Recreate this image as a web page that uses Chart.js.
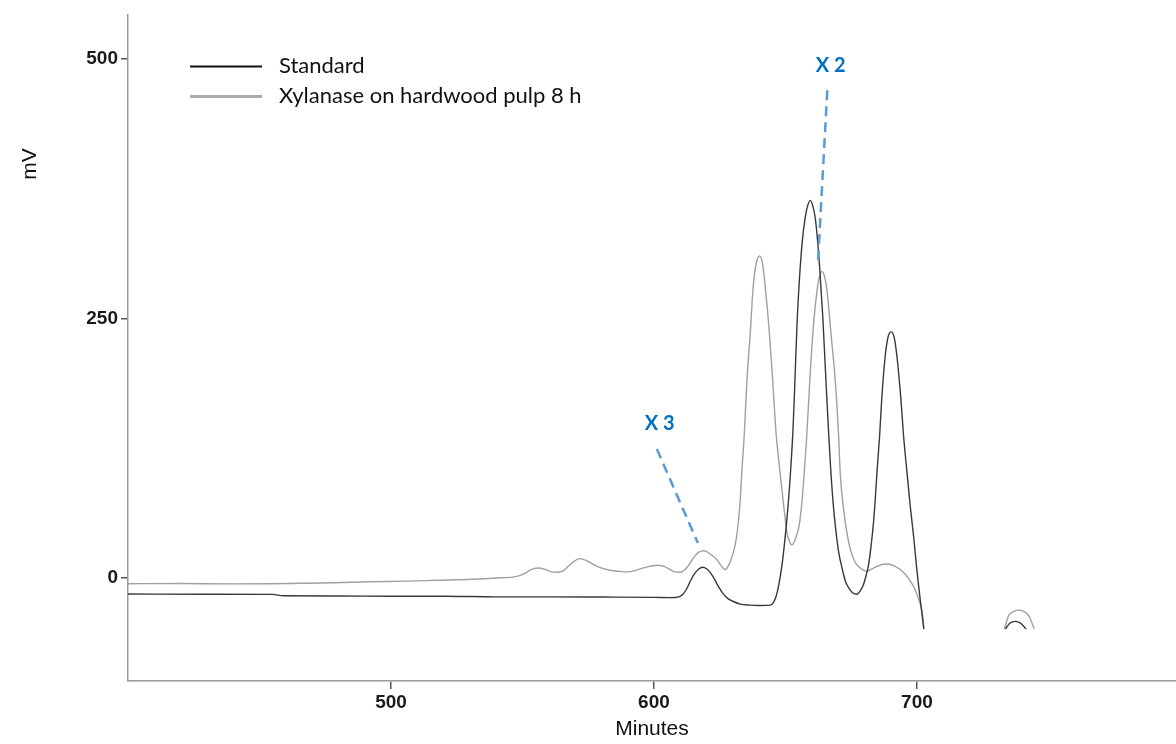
<!DOCTYPE html>
<html>
<head>
<meta charset="utf-8">
<script src="https://cdn.jsdelivr.net/npm/chart.js@4.4.1/dist/chart.umd.min.js"></script>
<style>
  html, body { margin: 0; padding: 0; background: #fff; }
  #wrap { width: 1176px; height: 744px; position: relative; }
</style>
</head>
<body>
<div id="wrap"><canvas id="chart"></canvas></div>
<script>
// Chromatogram values (minutes -> mV); null = trace off scale
const stdMinutes = [400, 430, 455, 459, 480, 500, 520, 540, 560, 580, 600, 606, 609.5, 611, 612.5, 614, 615.5, 617, 618.5, 620,
  621.5, 623, 624.5, 626, 628, 630.2, 632.8, 636.6, 640, 644.2, 645.5, 646.5, 647.5, 648.8, 649.9, 651, 652, 652.9, 653.6, 654.4, 655.6,
  656.5, 657.5, 658.4, 659.4, 660.4, 661.3, 662.2, 663, 664.2, 665.3, 666.3, 667.2, 668.2, 669.2, 670.3, 671.5, 672.8, 674, 675.5, 677.1,
  678.5, 679.7, 680.7, 681.6, 682.6, 683.5, 684.2, 684.8, 685.8, 686.6, 687.9, 689, 690.2, 691.4, 692.4, 693.9, 694.9, 696.2, 697.5, 698.8,
  699.8, 700.7, 701.7, 702.6, 718, 733.6, 735.3, 737.4, 739.5, 741.5];
const stdMv = [-15.3, -15.5, -15.6, -17, -17.2, -17.5, -17.5, -18, -18, -18.2, -18.5, -18.8, -18, -15.5, -10, -2, 4.5, 8.8, 10.5, 9,
  5, -1, -8, -14, -19.5, -22.5, -25, -26, -26.3, -26, -23, -17, -6, 15, 40, 70, 105, 145, 190, 245, 299,
  327, 347, 358, 363.5, 358, 347, 325, 299, 251, 195, 145, 105, 70, 45, 24, 9.8, -3, -9.2, -14, -15.5,
  -12, -6, 3, 13, 32, 54.3, 78, 102, 137, 172, 213, 232, 237, 231, 213, 172, 137, 102, 68, 38.4,
  12, -9.2, -30, -49, null, -49, -43.5, -41.6, -43.5, -49];

const xylMinutes = [400, 420, 440, 453, 465, 478, 492, 506, 518, 529, 541.5, 547.5, 551, 553, 556, 559, 561, 563.6, 566, 568.5,
  571.9, 575, 578.3, 583.3, 587, 590.3, 593, 596, 601.1, 604, 606.1, 608, 610, 612.5, 615, 617, 619.1, 621.5, 623.9, 625.5,
  627.1, 628.5, 630.3, 631.3, 632.1, 632.8, 633.4, 634.3, 635.3, 636.6, 637.8, 639, 640.1, 641.2, 642.2, 643.9, 645.2, 646.5, 647.3, 648,
  649.3, 650.5, 651.4, 652.4, 653.4, 654.3, 655.3, 656.2, 657.1, 658.1, 659.2, 660.4, 662, 662.9, 663.9, 664.9, 665.8, 667.3, 669, 670.2,
  670.8, 671.7, 672.7, 674, 675.3, 676.8, 678.4, 681, 683, 684.8, 687, 689.2, 691.5, 693.6, 695.8, 697.5, 698.9, 700, 701, 701.9,
  702.6, 718, 733.2, 734.9, 736.8, 738.7, 740.6, 742.5, 744.6];
const xylMv = [-5.4, -5.2, -5.5, -5.4, -5, -4.5, -3.5, -2.9, -2, -1.3, 0.3, 1.5, 4.5, 8, 9.8, 8, 6, 5.7, 8, 14,
  18.8, 16, 11.4, 7.6, 6.5, 6, 7.5, 9.8, 12.4, 11, 8.3, 6, 5.7, 10, 19.4, 25, 26.4, 23, 17.8, 12,
  8.3, 13, 25.7, 38, 54.3, 75, 102, 137, 187.8, 235.5, 283, 304, 310, 304, 283, 235.5, 187.8, 137, 117, 100,
  70.3, 44.8, 36, 32.1, 35, 41.7, 52, 72, 100, 137, 187.8, 235.5, 276.7, 290, 295, 290, 276.7, 235.5, 187.8, 137,
  102, 75, 54.3, 35, 22.6, 14, 9.8, 6.7, 9, 11.4, 13.3, 13.6, 11.5, 8.3, 3, -2.9, -9, -15.5, -23, -31.5,
  -47.4, null, -49, -36, -32, -30.8, -32, -36, -49];

const seriesLabels = ['Standard', 'Xylanase on hardwood pulp 8 h'];
const xTickValues = [500, 600, 700];
const yTickValues = [0, 250, 500];

// callouts, in data units (minutes, mV)
const calloutLabels = ['X 3', 'X 2'];
const calloutTextAt = [[602.2, 149], [667.2, 493]];
const calloutLineFrom = [[601.1, 124.3], [665.9, 469.5]];
const calloutLineTo = [[616.7, 33.7], [662.4, 305.6]];

function toPoints(xs, ys) {
    return xs.map((x, i) => ({ x: x, y: ys[i] }));
}

const tickFont = { family: 'Liberation Sans', size: 19, weight: 'bold' };

// legend, y title and the blue callouts
const overlay = {
    id: 'overlay',
    afterDraw(chart) {
        const ctx = chart.ctx;
        const xs = chart.scales.x;
        const ys = chart.scales.y;
        const area = chart.chartArea;
        ctx.save();

        // y axis title
        ctx.fillStyle = '#111';
        ctx.font = '21px "Liberation Sans"';
        ctx.textAlign = 'center';
        ctx.textBaseline = 'middle';
        ctx.translate(30, 164);
        ctx.rotate(-Math.PI / 2);
        ctx.fillText('mV', 0, 0);
        ctx.setTransform(1, 0, 0, 1, 0, 0);

        // legend
        const legendColors = ['#111', '#aaa'];
        const legendWidths = [2, 3];
        const lx = area.left + 62;
        let ly = area.top + 52;
        ctx.font = '22px Lato';
        ctx.textAlign = 'left';
        seriesLabels.forEach((label, i) => {
            ctx.beginPath();
            ctx.strokeStyle = legendColors[i];
            ctx.lineWidth = legendWidths[i];
            ctx.moveTo(lx, ly);
            ctx.lineTo(lx + 72, ly);
            ctx.stroke();
            ctx.fillStyle = '#111';
            ctx.fillText(label, lx + 89, ly);
            ly += 30;
        });

        // callouts
        ctx.setLineDash([10, 6]);
        ctx.strokeStyle = '#5b9bd5';
        ctx.lineWidth = 2.5;
        calloutLabels.forEach((label, i) => {
            ctx.beginPath();
            ctx.moveTo(xs.getPixelForValue(calloutLineFrom[i][0]), ys.getPixelForValue(calloutLineFrom[i][1]));
            ctx.lineTo(xs.getPixelForValue(calloutLineTo[i][0]), ys.getPixelForValue(calloutLineTo[i][1]));
            ctx.stroke();
        });
        ctx.setLineDash([]);
        ctx.fillStyle = '#0070c0';
        ctx.font = 'bold 20px Lato';
        ctx.textAlign = 'center';
        calloutLabels.forEach((label, i) => {
            ctx.fillText(label, xs.getPixelForValue(calloutTextAt[i][0]), ys.getPixelForValue(calloutTextAt[i][1]));
        });
        ctx.restore();
    }
};

new Chart(document.getElementById('chart'), {
    type: 'line',
    data: {
        datasets: [
            {
                label: seriesLabels[0],
                data: toPoints(stdMinutes, stdMv),
                borderColor: '#383838',
                borderWidth: 1.4,
                pointRadius: 0,
                cubicInterpolationMode: 'monotone',
                spanGaps: false
            },
            {
                label: seriesLabels[1],
                data: toPoints(xylMinutes, xylMv),
                borderColor: '#a0a0a0',
                borderWidth: 1.4,
                pointRadius: 0,
                cubicInterpolationMode: 'monotone',
                spanGaps: false
            }
        ]
    },
    options: {
        responsive: true,
        maintainAspectRatio: false,
        animation: false,
        events: [],
        layout: { padding: { top: 8, right: 0, bottom: 0, left: 0 } },
        plugins: {
            legend: { display: false },
            tooltip: { enabled: false }
        },
        scales: {
            x: {
                type: 'linear',
                min: 400,
                max: 798.5,
                afterBuildTicks: s => { s.ticks = xTickValues.map(v => ({ value: v })); },
                afterFit: s => { s.height = 63; },
                grid: { drawOnChartArea: false, drawTicks: true, tickLength: 8, color: '#555', lineWidth: 1.5 },
                border: { color: '#9a9a9a', width: 1.5 },
                ticks: { font: tickFont, color: '#1a1a1a', padding: 2, maxRotation: 0 },
                title: {
                    display: true,
                    text: 'Minutes',
                    font: { family: 'Liberation Sans', size: 21 },
                    color: '#111',
                    padding: { top: 0, bottom: 2 }
                }
            },
            y: {
                type: 'linear',
                min: -99,
                max: 542.5,
                afterBuildTicks: s => { s.ticks = yTickValues.map(v => ({ value: v })); },
                afterFit: s => { s.width = 128; },
                grid: { drawOnChartArea: false, drawTicks: true, tickLength: 7, color: '#555', lineWidth: 1.5 },
                border: { color: '#9a9a9a', width: 1.5 },
                ticks: { font: tickFont, color: '#1a1a1a', padding: 3 }
            }
        }
    },
    plugins: [overlay]
});
</script>
</body>
</html>
